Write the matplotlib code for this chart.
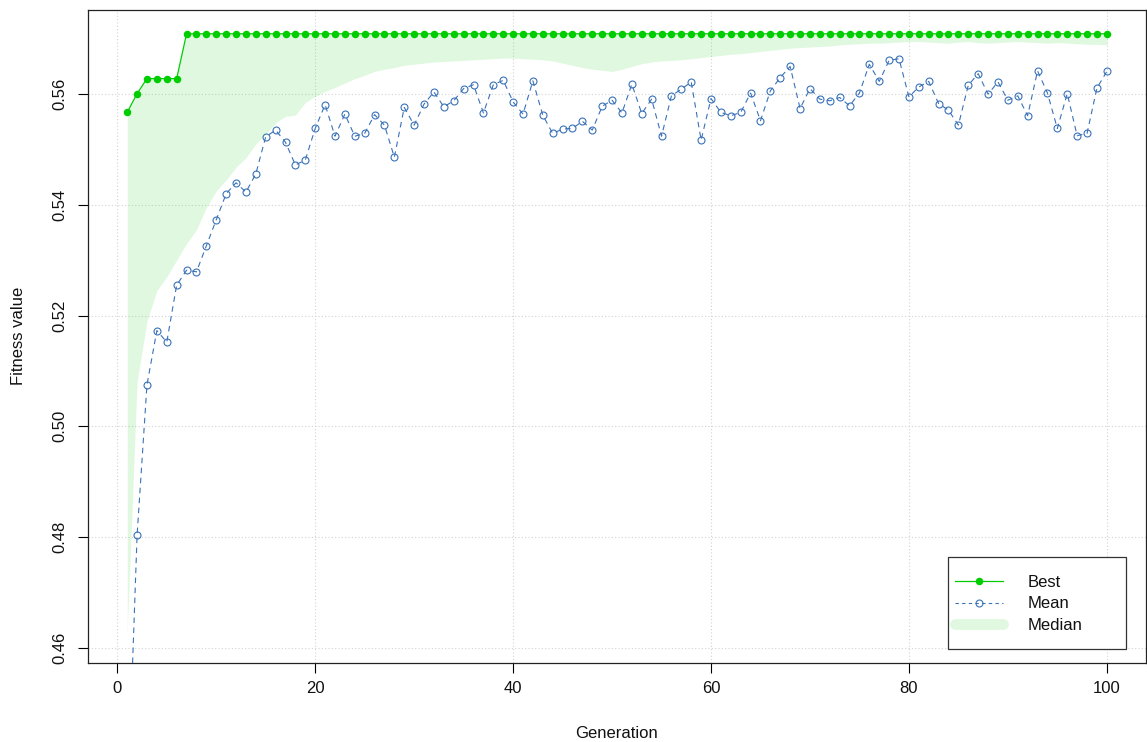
import matplotlib
matplotlib.use("Agg")
import matplotlib.pyplot as plt
from matplotlib.lines import Line2D
from matplotlib.patches import Rectangle
import numpy as np

plt.rcParams['font.family'] = ['Liberation Sans', 'DejaVu Sans']

generation = list(range(1, 101))

best = [
    0.5567, 0.5601, 0.5628, 0.5628, 0.5628, 0.5628, 0.5709, 0.5709, 0.5709, 0.5709,
    0.5709, 0.5709, 0.5709, 0.5709, 0.5709, 0.5709, 0.5709, 0.5709, 0.5709, 0.5709,
    0.5709, 0.5709, 0.5709, 0.5709, 0.5709, 0.5709, 0.5709, 0.5709, 0.5709, 0.5709,
    0.5709, 0.5709, 0.5709, 0.5709, 0.5709, 0.5709, 0.5709, 0.5709, 0.5709, 0.5709,
    0.5709, 0.5709, 0.5709, 0.5709, 0.5709, 0.5709, 0.5709, 0.5709, 0.5709, 0.5709,
    0.5709, 0.5709, 0.5709, 0.5709, 0.5709, 0.5709, 0.5709, 0.5709, 0.5709, 0.5709,
    0.5709, 0.5709, 0.5709, 0.5709, 0.5709, 0.5709, 0.5709, 0.5709, 0.5709, 0.5709,
    0.5709, 0.5709, 0.5709, 0.5709, 0.5709, 0.5709, 0.5709, 0.5709, 0.5709, 0.5709,
    0.5709, 0.5709, 0.5709, 0.5709, 0.5709, 0.5709, 0.5709, 0.5709, 0.5709, 0.5709,
    0.5709, 0.5709, 0.5709, 0.5709, 0.5709, 0.5709, 0.5709, 0.5709, 0.5709, 0.5709,
]

mean = [
    0.4294, 0.4803, 0.5075, 0.5173, 0.5152, 0.5255, 0.5282, 0.5279, 0.5326, 0.5373,
    0.5420, 0.5440, 0.5423, 0.5456, 0.5523, 0.5535, 0.5513, 0.5472, 0.5481, 0.5538,
    0.5581, 0.5524, 0.5564, 0.5524, 0.5529, 0.5563, 0.5544, 0.5486, 0.5576, 0.5544,
    0.5582, 0.5604, 0.5577, 0.5588, 0.5610, 0.5617, 0.5566, 0.5617, 0.5625, 0.5586,
    0.5564, 0.5624, 0.5562, 0.5529, 0.5537, 0.5538, 0.5551, 0.5535, 0.5578, 0.5589,
    0.5566, 0.5618, 0.5565, 0.5591, 0.5524, 0.5597, 0.5609, 0.5622, 0.5517, 0.5592,
    0.5567, 0.5561, 0.5567, 0.5602, 0.5552, 0.5606, 0.5630, 0.5650, 0.5574, 0.5610,
    0.5591, 0.5588, 0.5594, 0.5579, 0.5602, 0.5654, 0.5623, 0.5661, 0.5664, 0.5595,
    0.5613, 0.5623, 0.5583, 0.5571, 0.5544, 0.5616, 0.5637, 0.5600, 0.5622, 0.5589,
    0.5597, 0.5561, 0.5642, 0.5602, 0.5538, 0.5601, 0.5525, 0.5529, 0.5611, 0.5641,
]

median = [
    0.4625, 0.5080, 0.5190, 0.5245, 0.5270, 0.5300, 0.5330, 0.5355, 0.5395, 0.5425,
    0.5445, 0.5468, 0.5485, 0.5510, 0.5528, 0.5548, 0.5560, 0.5562, 0.5585, 0.5596,
    0.5605, 0.5612, 0.5620, 0.5628, 0.5634, 0.5641, 0.5645, 0.5648, 0.5652, 0.5654,
    0.5656, 0.5658, 0.5659, 0.5660, 0.5661, 0.5662, 0.5663, 0.5664, 0.5665, 0.5665,
    0.5664, 0.5663, 0.5662, 0.5660, 0.5656, 0.5652, 0.5648, 0.5645, 0.5643, 0.5641,
    0.5645, 0.5650, 0.5655, 0.5658, 0.5660, 0.5661, 0.5662, 0.5664, 0.5666, 0.5668,
    0.5670, 0.5672, 0.5673, 0.5675, 0.5677, 0.5679, 0.5681, 0.5683, 0.5684, 0.5685,
    0.5686, 0.5687, 0.5689, 0.5690, 0.5691, 0.5692, 0.5692, 0.5693, 0.5694, 0.5695,
    0.5695, 0.5694, 0.5693, 0.5692, 0.5694, 0.5695, 0.5693, 0.5692, 0.5693, 0.5694,
    0.5695, 0.5694, 0.5693, 0.5692, 0.5693, 0.5692, 0.5691, 0.5690, 0.5690, 0.5689,
]

x_ticks = [0, 20, 40, 60, 80, 100]
y_ticks = [0.46, 0.48, 0.50, 0.52, 0.54, 0.56]
y_tick_labels = ["0.46", "0.48", "0.50", "0.52", "0.54", "0.56"]
legend_labels = ["Best", "Mean", "Median"]

GREEN = "#00CD00"
BLUE = "#3A72B8"
FILL_ALPHA = 0.12

W, H = 1147, 742
fig = plt.figure(figsize=(W / 100, H / 100), dpi=100)
left, right, top, bottom = 88, 1146, 10, 662.7
ax = fig.add_axes([left / W, 1 - bottom / H, (right - left) / W, (bottom - top) / H])

ax.set_xlim(-2.96, 103.96)
ax.set_ylim(0.4573, 0.5752)

# grid
for xv in x_ticks:
    ax.axvline(xv, color="#D3D3D3", lw=0.8, ls=(0, (1, 2)), zorder=0)
for yv in y_ticks:
    ax.axhline(yv, color="#D3D3D3", lw=0.8, ls=(0, (1, 2)), zorder=0)

ax.plot(generation, best, color=GREEN, lw=0.9, marker="o", ms=4.4,
        mfc=GREEN, mec=GREEN, zorder=3)
ax.plot(generation, mean, color=BLUE, lw=0.8, ls=(0, (5, 4)), marker="o", ms=5.0,
        mfc="none", mec=BLUE, mew=0.8, zorder=3)
ax.fill_between(generation, median, best, color=GREEN, alpha=FILL_ALPHA, lw=0, zorder=4)

ax.set_xticks(x_ticks)
ax.set_xticklabels([str(v) for v in x_ticks])
ax.set_yticks(y_ticks)
ax.set_yticklabels(y_tick_labels)
ax.tick_params(axis="both", direction="out", length=7.2, width=0.8, labelsize=12,
               color="black", labelcolor="#111111")
ax.tick_params(axis="x", pad=6)
ax.tick_params(axis="y", pad=8, labelrotation=90)
for lab in ax.get_yticklabels():
    lab.set_va("center")

for sp in ax.spines.values():
    sp.set_linewidth(0.9)
    sp.set_color("#222222")

fig.text(19 / W, 1 - 336 / H, "Fitness value", rotation=90, ha="center", va="center",
         fontsize=12, color="#111111")
fig.text(617 / W, 1 - 734 / H, "Generation", ha="center", va="center",
         fontsize=12, color="#111111")

# legend
handles = [
    Line2D([], [], color=GREEN, lw=0.9, marker="o", ms=4.4, mfc=GREEN, mec=GREEN),
    Line2D([], [], color=BLUE, lw=0.8, ls=(0, (3, 3)), marker="o", ms=5.0, mfc="none",
           mec=BLUE, mew=0.8),
    Line2D([], [], color=GREEN, alpha=FILL_ALPHA, lw=7.8, solid_capstyle="round"),
]
leg = fig.legend(handles, legend_labels, loc="center left",
                 bbox_to_anchor=(955 / W, 1 - 604 / H), bbox_transform=fig.transFigure,
                 frameon=False, fontsize=12, handlelength=2.9, handletextpad=1.45,
                 labelspacing=0.38, borderpad=0, borderaxespad=0)
for t in leg.get_texts():
    t.set_color("#111111")

fig.patches.append(Rectangle((948.3 / W, 1 - 649 / H), (1125.7 - 948.3) / W,
                             (649 - 557.3) / H, transform=fig.transFigure,
                             fill=True, facecolor="white", edgecolor="#333333",
                             lw=0.9, zorder=5))
leg.set_zorder(6)

fig.savefig("out.png", dpi=100)
